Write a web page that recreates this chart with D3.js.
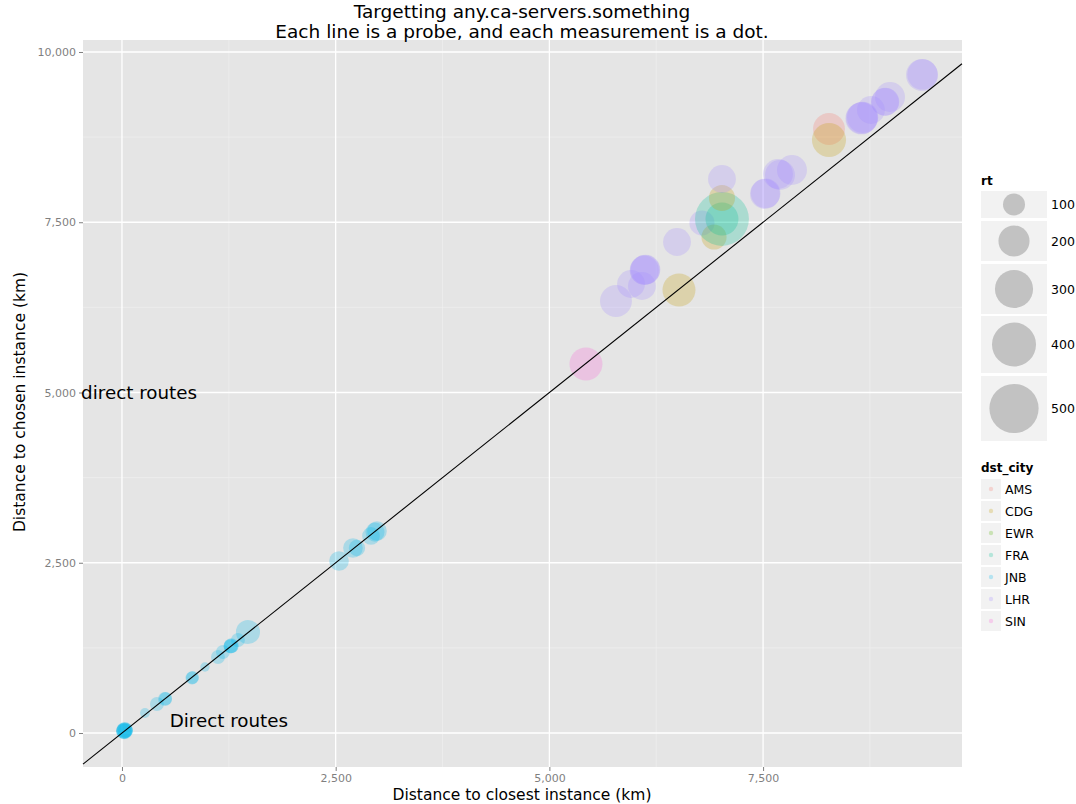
<!DOCTYPE html>
<html><head><meta charset="utf-8">
<script src="https://cdnjs.cloudflare.com/ajax/libs/d3/7.8.5/d3.min.js"></script>
<style>body{margin:0;background:#fff}svg{display:block}text{font-family:"DejaVu Sans",sans-serif}</style>
</head><body><svg id="c" width="1076" height="804"></svg>
<script>
// ---- data ----
const cities = ["AMS","CDG","EWR","FRA","JNB","LHR","SIN"];
const cityColors = ["#F8766D","#C49A00","#53B400","#00C094","#00B6EB","#A58AFF","#FB61D7"];
const xTicks = [0,2500,5000,7500];
const yTicks = [0,2500,5000,7500,10000];
const rtLegend = [100,200,300,400,500];
// measurements: closest distance, chosen distance, rt, dst_city
const closest = [20,30,40,25,35,30, 269,409,503,510, 819,825, 971,1123,1181,1275,1280,1270,1357,1474, 2539,2702,2749,2913,2983,2960,
  5428, 5779,5955,6083,6118,6125,6110, 6516, 6493,6785,6926, 7019,7019,7019, 7019, 7522,7530,7674,7698,7838,
  8271,8271, 8657,8665,8650,8762,8926,8930,8985,9359,9365];
const chosen = [30,40,35,25,45,30, 294,426,499,505, 808,815, 969,1116,1189,1277,1282,1272,1366,1483, 2526,2717,2717,2893,2966,2950,
  5418, 6344,6593,6564,6799,6805,6795, 6505, 7210,7489,7283, 7548,7548,7856, 8135, 7915,7925,8208,8194,8267,
  8869,8708, 9031,9040,9025,9148,9266,9270,9339,9662,9670];
const rt = [50,55,45,50,50,55, 20,40,40,35, 35,35, 18,40,40,45,45,40,40,120, 80,80,55,65,80,75,
  225, 210,160,160,185,180,175, 225, 160,130,130, 600,225,140, 160, 185,180,185,185,185,
  210,240, 210,200,210,160,160,160,185,210,190];
const dstCity = ["JNB","JNB","JNB","JNB","JNB","JNB", "JNB","JNB","JNB","JNB", "JNB","JNB", "JNB","JNB","JNB","JNB","JNB","JNB","JNB","JNB", "JNB","JNB","JNB","JNB","JNB","JNB",
  "SIN", "LHR","LHR","LHR","LHR","LHR","LHR", "CDG", "LHR","LHR","CDG", "FRA","FRA","CDG", "LHR", "LHR","LHR","LHR","LHR","LHR",
  "AMS","CDG", "LHR","LHR","LHR","LHR","LHR","LHR","LHR","LHR","LHR"];

// ---- layout ----
const svg = d3.select("#c");
const P = {l:83, r:962, t:40, b:767};
const x = d3.scaleLinear().domain([-456, 9827]).range([P.l, P.r]);
const y = d3.scaleLinear().domain([-499, 10176]).range([P.b, P.t]);
const rScale = d3.scaleSqrt().domain([0,500]).range([0,24.6]);
const col = d3.scaleOrdinal().domain(cities).range(cityColors);

svg.append("rect").attr("x",P.l).attr("y",P.t).attr("width",P.r-P.l).attr("height",P.b-P.t).attr("fill","#e5e5e5");
const minorX = [1250,3750,6250,8750], minorY = [1250,3750,6250,8750];
const g = svg.append("g");
g.selectAll(".mx").data(minorX).join("line").attr("x1",d=>x(d)).attr("x2",d=>x(d)).attr("y1",P.t).attr("y2",P.b).attr("stroke","#f2f2f2").attr("stroke-width",0.6);
g.selectAll(".my").data(minorY).join("line").attr("y1",d=>y(d)).attr("y2",d=>y(d)).attr("x1",P.l).attr("x2",P.r).attr("stroke","#f2f2f2").attr("stroke-width",0.6);
g.selectAll(".gx").data(xTicks).join("line").attr("x1",d=>x(d)).attr("x2",d=>x(d)).attr("y1",P.t).attr("y2",P.b).attr("stroke","#fff").attr("stroke-width",1.3);
g.selectAll(".gy").data(yTicks).join("line").attr("y1",d=>y(d)).attr("y2",d=>y(d)).attr("x1",P.l).attr("x2",P.r).attr("stroke","#fff").attr("stroke-width",1.3);

// axes
const fmt = d3.format(",");
const ax = svg.append("g").attr("transform",`translate(0,${P.b})`).call(d3.axisBottom(x).tickValues(xTicks).tickFormat(fmt).tickSize(4).tickPadding(3));
const ay = svg.append("g").attr("transform",`translate(${P.l},0)`).call(d3.axisLeft(y).tickValues(yTicks).tickFormat(fmt).tickSize(4).tickPadding(3));
[ax,ay].forEach(a=>{a.select(".domain").remove();a.selectAll("line").attr("stroke","#7f7f7f");a.selectAll("text").attr("fill","#7f7f7f").attr("font-size",11).attr("font-family","DejaVu Sans");});

// points
const pts = closest.map((d,i)=>({x:d,y:chosen[i],rt:rt[i],city:dstCity[i]}));
svg.append("g").selectAll("circle").data(pts).join("circle")
  .attr("cx",d=>x(d.x)).attr("cy",d=>y(d.y)).attr("r",d=>rScale(d.rt))
  .attr("fill",d=>col(d.city)).attr("fill-opacity",0.25);

// y = x line
const dom = x.domain();
svg.append("line").attr("x1",x(dom[0])).attr("y1",y(dom[0])).attr("x2",x(dom[1])).attr("y2",y(dom[1])).attr("stroke","#000").attr("stroke-width",1.1);

// annotations
svg.append("text").attr("x",x(200)).attr("y",y(5000)).attr("text-anchor","middle").attr("dominant-baseline","central").attr("font-size",18.3).text("direct routes");
svg.append("text").attr("x",x(1250)).attr("y",y(190)).attr("text-anchor","middle").attr("dominant-baseline","central").attr("font-size",18.3).text("Direct routes");

// titles
svg.append("text").attr("x",522).attr("y",18).attr("text-anchor","middle").attr("font-size",18.5).text("Targetting any.ca-servers.something");
svg.append("text").attr("x",522).attr("y",38).attr("text-anchor","middle").attr("font-size",18.5).text("Each line is a probe, and each measurement is a dot.");
svg.append("text").attr("x",522).attr("y",800).attr("text-anchor","middle").attr("font-size",15.5).text("Distance to closest instance (km)");
svg.append("text").attr("transform","translate(25,402) rotate(-90)").attr("text-anchor","middle").attr("font-size",15.5).text("Distance to chosen instance (km)");

// size legend
const lx = 981, lw = 66;
svg.append("text").attr("x",lx).attr("y",185).attr("font-size",12).attr("font-weight","bold").text("rt");
const rows = [[191,218],[221,261],[264,314],[316,373],[376,441]];
const sl = svg.append("g");
rtLegend.forEach((v,i)=>{
  const [a,b]=rows[i];
  sl.append("rect").attr("x",lx).attr("y",a).attr("width",lw).attr("height",b-a).attr("fill","#f2f2f2");
  sl.append("circle").attr("cx",lx+lw/2).attr("cy",(a+b)/2).attr("r",rScale(v)).attr("fill","#c2c2c2");
  sl.append("text").attr("x",1051).attr("y",(a+b)/2).attr("dominant-baseline","central").attr("font-size",12.5).text(v);
});
// colour legend
svg.append("text").attr("x",lx).attr("y",472).attr("font-size",12).attr("font-weight","bold").text("dst_city");
const cl = svg.append("g");
cities.forEach((c,i)=>{
  const yy = 479 + i*22;
  cl.append("rect").attr("x",lx).attr("y",yy).attr("width",20).attr("height",20).attr("fill","#f2f2f2");
  cl.append("circle").attr("cx",lx+10).attr("cy",yy+10).attr("r",2.2).attr("fill",col(c)).attr("fill-opacity",0.25);
  cl.append("text").attr("x",1005).attr("y",yy+10).attr("dominant-baseline","central").attr("font-size",12.5).text(c);
});
</script></body></html>
